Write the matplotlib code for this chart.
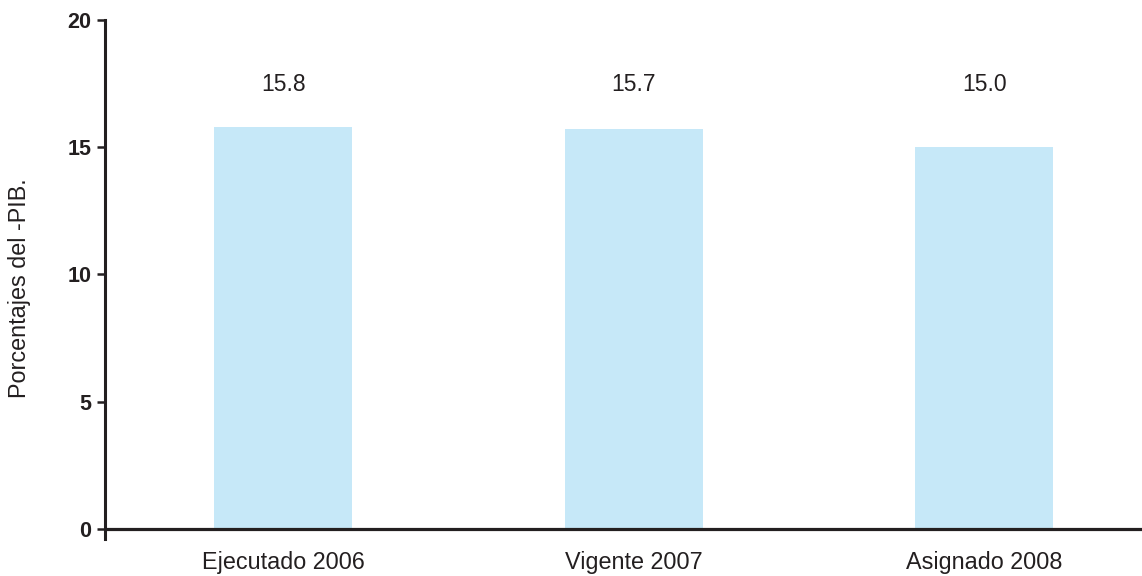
import matplotlib
matplotlib.use("Agg")
import matplotlib.pyplot as plt

plt.rcParams['font.family'] = ['Liberation Sans', 'DejaVu Sans']

categories = ["Ejecutado 2006", "Vigente 2007", "Asignado 2008"]
values = [15.8, 15.7, 15.0]
labels = ["15.8", "15.7", "15.0"]
yticks = [0, 5, 10, 15, 20]

dark = "#231f20"
bar_color = "#c6e8f8"

fig = plt.figure(figsize=(11.42, 5.76), dpi=100)
ax = fig.add_axes([0.092, 0.0642, 0.908, 0.9011])

x = range(len(categories))
ax.bar(x, values, width=0.394, color=bar_color, zorder=1)
for xi, lab in zip(x, labels):
    ax.text(xi, 17.45, lab, ha="center", va="center", fontsize=16.5, color=dark)

ax.axhline(0, color=dark, lw=2.3, zorder=3)

ax.set_xlim(-0.508, 2.45)
ax.set_ylim(-0.4, 20)
ax.set_yticks(yticks)
ax.set_yticklabels([str(t) for t in yticks], fontweight="bold", fontsize=15.5, color=dark)
ax.set_xticks(list(x))
ax.set_xticklabels(categories, fontsize=16.8, color=dark)
ax.tick_params(axis="x", length=0, pad=8.5)
ax.tick_params(axis="y", length=6, width=1.8, color=dark, pad=4)

for s in ["top", "right", "bottom"]:
    ax.spines[s].set_visible(False)
ax.spines["left"].set_color(dark)
ax.spines["left"].set_linewidth(2.2)

fig.text(0.0175, 0.5, "Porcentajes del -PIB.", rotation=90, ha="center", va="center",
         fontsize=16.8, color=dark)

fig.savefig("out.png", dpi=100)
